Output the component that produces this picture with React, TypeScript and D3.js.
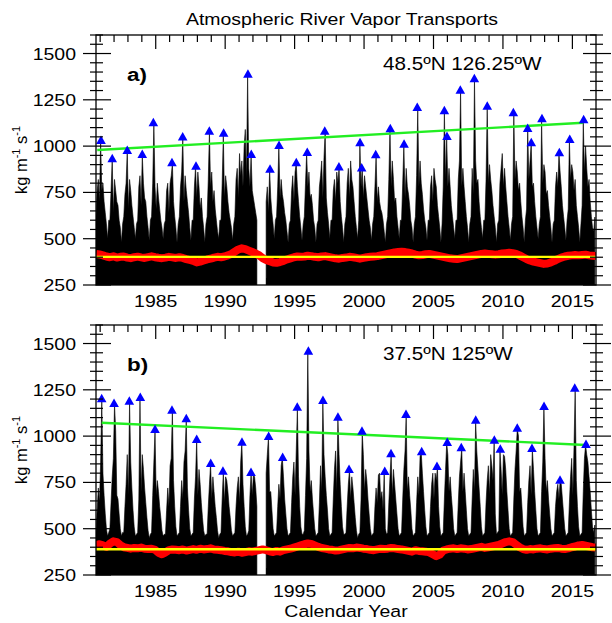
import React from "react";
import * as d3 from "d3";

// ---------- data ----------
const SERIES_START = 1980.7; // first monthly envelope sample (decimal year)
const X_DOMAIN = [1980.7, 2016.7];
const Y_DOMAIN = [250, 1600];
const xTickLabels = [1985, 1990, 1995, 2000, 2005, 2010, 2015];
const yTickLabels = [250, 500, 750, 1000, 1250, 1500];
const panelLetters = ["a)", "b)"];
const locations = ["48.5ºN 126.25ºW", "37.5ºN 125ºW"];
const titleText = "Atmospheric River Vapor Transports";
const xAxisTitle = "Calendar Year";

// monthly maxima of the daily IVT series (Sep..Aug rows), panel a
const blackA: (number | null)[][] = [
  [620, 760, 820, 700, 1028, 760, 800, 700, 640, 580, 500, 600],
  [600, 760, 929, 640, 820, 760, 700, 680, 600, 560, 480, 580],
  [620, 740, 800, 974, 660, 820, 760, 680, 620, 560, 500, 580],
  [600, 780, 840, 680, 952, 800, 720, 700, 620, 560, 490, 600],
  [620, 800, 1123, 780, 660, 800, 720, 660, 600, 560, 500, 580],
  [600, 760, 800, 640, 800, 840, 907, 700, 620, 560, 480, 580],
  [620, 780, 860, 1047, 700, 840, 760, 700, 640, 560, 490, 600],
  [600, 780, 889, 720, 860, 780, 660, 720, 620, 560, 480, 580],
  [620, 820, 1078, 780, 860, 700, 760, 660, 600, 540, 500, 600],
  [600, 800, 1067, 720, 840, 780, 700, 640, 600, 560, 490, 580],
  [620, 820, 880, 720, 960, 840, 920, 780, 1000, 1090, 820, 1386],
  [880, 780, 952, 760, 720, 680, 640, 600, null, null, null, null],
  [null, null, null, 700, 780, 640, 873, 720, 640, 580, 500, 600],
  [620, 780, 1001, 720, 820, 740, 700, 640, 600, 540, 480, 580],
  [600, 760, 840, 700, 860, 907, 780, 700, 620, 560, 490, 580],
  [620, 800, 963, 780, 860, 720, 740, 680, 600, 560, 480, 580],
  [600, 780, 840, 920, 720, 940, 1078, 720, 640, 580, 500, 600],
  [600, 760, 820, 700, 860, 800, 884, 700, 620, 560, 480, 580],
  [620, 800, 880, 720, 920, 820, 780, 700, 620, 560, 500, 600],
  [1015, 780, 879, 720, 840, 780, 720, 660, 600, 560, 490, 580],
  [620, 780, 950, 700, 780, 700, 660, 640, 600, 540, 480, 580],
  [620, 820, 1091, 780, 920, 820, 700, 720, 620, 560, 500, 600],
  [600, 800, 1008, 720, 880, 780, 740, 680, 600, 560, 480, 580],
  [620, 840, 1206, 780, 920, 800, 740, 660, 600, 560, 490, 600],
  [600, 780, 840, 700, 880, 820, 780, 680, 620, 560, 480, 580],
  [780, 1188, 820, 1049, 780, 880, 780, 680, 620, 560, 500, 600],
  [600, 820, 920, 1299, 780, 880, 780, 700, 620, 560, 480, 580],
  [620, 880, 740, 1361, 920, 800, 820, 700, 620, 560, 500, 600],
  [600, 820, 1213, 800, 900, 820, 760, 680, 620, 560, 480, 580],
  [600, 800, 880, 960, 780, 880, 780, 700, 620, 560, 490, 580],
  [620, 1177, 820, 920, 860, 760, 800, 700, 620, 560, 480, 600],
  [660, 1092, 820, 920, 1015, 780, 800, 700, 620, 560, 500, 580],
  [620, 1145, 800, 900, 860, 740, 760, 680, 620, 560, 480, 580],
  [600, 780, 860, 780, 961, 860, 780, 680, 620, 560, 490, 600],
  [660, 1033, 820, 900, 860, 760, 820, 680, 620, 560, 480, 580],
  [680, 1140, 860, 1000, 880, 780, 820, 700, 620, 560, 540, 617],
];

// panel b
const blackB: (number | null)[][] = [
  [480, 600, 720, 640, 860, 1199, 800, 680, 580, 500, 460, 480],
  [500, 640, 780, 880, 1173, 1030, 680, 660, 580, 500, 460, 480],
  [480, 620, 740, 900, 680, 1186, 860, 720, 600, 510, 460, 470],
  [480, 660, 1206, 700, 900, 820, 720, 640, 560, 490, 450, 470],
  [480, 680, 860, 1033, 680, 760, 700, 620, 560, 490, 460, 470],
  [470, 600, 720, 620, 840, 880, 1137, 760, 620, 510, 460, 470],
  [480, 620, 760, 660, 860, 920, 1091, 720, 600, 500, 460, 470],
  [480, 660, 780, 979, 680, 820, 740, 640, 560, 490, 460, 470],
  [470, 620, 740, 849, 660, 780, 700, 620, 560, 490, 450, 470],
  [480, 660, 808, 640, 780, 760, 700, 620, 560, 490, 460, 470],
  [480, 620, 720, 780, 640, 860, 964, 740, 620, 510, 460, 470],
  [490, 680, 801, 680, 790, 780, 720, 620, null, null, null, null],
  [null, null, null, 800, 900, 995, 700, 700, 600, 500, 460, 470],
  [480, 620, 740, 660, 840, 882, 780, 660, 580, 500, 460, 470],
  [480, 640, 780, 860, 680, 920, 1153, 780, 620, 510, 470, 470],
  [490, 680, 880, 1456, 920, 700, 760, 660, 580, 500, 460, 470],
  [480, 640, 840, 700, 1190, 900, 780, 680, 600, 500, 460, 470],
  [480, 660, 820, 920, 700, 1099, 900, 740, 620, 510, 470, 470],
  [480, 620, 740, 817, 660, 780, 720, 640, 560, 490, 450, 470],
  [480, 660, 1024, 900, 700, 820, 760, 660, 580, 500, 460, 470],
  [480, 620, 720, 640, 790, 800, 660, 700, 600, 806, 500, 470],
  [480, 640, 780, 902, 680, 820, 740, 660, 580, 500, 460, 470],
  [480, 660, 820, 920, 1114, 700, 780, 680, 600, 500, 460, 470],
  [480, 640, 780, 680, 890, 913, 800, 700, 600, 510, 460, 470],
  [480, 620, 740, 800, 660, 800, 760, 833, 620, 510, 460, 470],
  [480, 660, 820, 963, 900, 700, 780, 680, 600, 500, 460, 470],
  [480, 640, 780, 860, 934, 700, 800, 700, 600, 500, 460, 470],
  [480, 660, 820, 700, 1083, 920, 820, 720, 620, 510, 460, 470],
  [480, 640, 760, 840, 680, 900, 840, 760, 975, 580, 470, 480],
  [490, 927, 820, 680, 900, 890, 820, 700, 600, 500, 460, 470],
  [480, 660, 820, 920, 1040, 1000, 700, 720, 620, 510, 460, 470],
  [480, 640, 760, 840, 680, 930, 820, 700, 600, 500, 460, 470],
  [480, 700, 860, 1157, 880, 700, 760, 660, 580, 500, 460, 470],
  [480, 620, 700, 740, 660, 759, 740, 660, 580, 500, 460, 470],
  [480, 640, 780, 880, 680, 940, 1256, 760, 620, 510, 460, 470],
  [480, 700, 880, 952, 900, 860, 780, 700, 600, 510, 480, 520],
];

// threshold series (red), quarterly samples from 1980.7
const redA = [
  418, 415, 410, 404, 400, 405, 398, 402, 404, 398, 395, 400, 403, 399, 396, 401,
  405, 400, 397, 395, 398, 402, 399, 396, 400, 396, 390, 385, 380, 372, 376, 382,
  388, 392, 398, 402, 400, 404, 410, 418, 430, 442, 448, 444, 436, 428, 420, 410,
  395, 385, 378, 372, 370, 374, 380, 388, 394, 400, 404, 402, 404, 408, 406, 402,
  400, 404, 406, 402, 398, 394, 392, 396, 398, 402, 400, 396, 392, 396, 400, 402,
  404, 406, 410, 414, 418, 422, 426, 428, 430, 428, 424, 420, 414, 410, 412, 416,
  418, 414, 410, 406, 402, 398, 394, 392, 390, 394, 398, 402, 406, 410, 414, 418,
  420, 418, 416, 414, 416, 420, 422, 424, 422, 418, 410, 400, 390, 382, 376, 372,
  368, 364, 366, 372, 380, 390, 398, 404, 408, 410, 412, 410, 412, 414, 410, 408,
  406,
];
const redB = [
  412, 416, 410, 402, 420, 432, 428, 412, 400, 396, 392, 396, 394, 398, 392, 390,
  392, 386, 370, 362, 372, 384, 388, 386, 384, 388, 382, 386, 390, 386, 392, 388,
  390, 394, 388, 386, 384, 380, 378, 374, 372, 376, 370, 374, 378, 376, 380, 384,
  388, 384, 378, 374, 380, 376, 384, 388, 392, 398, 404, 410, 416, 420, 418, 410,
  402, 396, 392, 388, 386, 382, 384, 388, 392, 396, 394, 398, 396, 392, 390, 386,
  384, 388, 392, 390, 392, 396, 394, 390, 388, 384, 380, 376, 384, 380, 378, 376,
  372, 362, 352, 360, 382, 388, 392, 394, 390, 394, 392, 388, 390, 394, 398, 402,
  396, 400, 404, 408, 412, 420, 428, 432, 428, 414, 400, 390, 386, 390, 388, 392,
  394, 390, 388, 392, 394, 396, 392, 390, 394, 400, 404, 410, 412, 408, 404, 400,
  398,
];

// annual maxima (blue triangles)
const maxTimeA = [
  1981.06, 1981.87, 1982.95, 1984.03, 1984.83, 1986.17, 1986.94, 1987.9, 1988.86, 1989.89,
  1991.64, 1991.88, 1993.23, 1993.88, 1995.12, 1995.91, 1997.17, 1998.19, 1999.71, 1999.83,
  2000.84, 2001.89, 2002.88, 2003.83, 2005.78, 2005.97, 2006.93, 2007.94, 2008.87, 2010.75,
  2011.78, 2012.04, 2012.81, 2014.06, 2014.81, 2015.81,
];
const maxValA = [
  1028, 929, 974, 952, 1123, 907, 1047, 889, 1078, 1067, 1386, 952, 873, 1001, 907, 963,
  1078, 884, 1015, 879, 950, 1091, 1008, 1206, 1188, 1049, 1299, 1361, 1213, 1177, 1092,
  1015, 1145, 961, 1033, 1140,
];
const maxTimeB = [
  1981.11, 1982.0, 1983.1, 1983.89, 1984.95, 1986.17, 1987.2, 1987.95, 1988.96, 1989.84,
  1991.21, 1991.86, 1993.13, 1994.14, 1995.19, 1995.99, 1997.04, 1998.12, 1998.92, 1999.85,
  2001.49, 2001.94, 2003.02, 2004.15, 2005.25, 2005.99, 2007.0, 2008.04, 2009.38, 2009.81,
  2011.03, 2012.09, 2012.96, 2014.11, 2015.17, 2015.98,
];
const maxValB = [
  1199, 1173, 1186, 1206, 1033, 1137, 1091, 979, 849, 808, 964, 801, 995, 882, 1153, 1456,
  1190, 1099, 817, 1024, 806, 902, 1114, 913, 833, 963, 934, 1083, 975, 927, 1040, 930,
  1157, 759, 1256, 952,
];

// linear trend of annual maxima (green)
const trendYearsA = [1980.79, 2015.78];
const trendValsA = [979, 1126];
const trendYearsB = [1981.11, 2015.98];
const trendValsB = [1072, 952];

// long-term mean threshold (yellow)
const meanA = 402;
const meanB = 389;

// ---------- drawing ----------
const FONT = "'Liberation Sans', Arial, Helvetica, sans-serif";
const SX = 1.18;
const LEFT = 96;
const RIGHT = 596;
const PH = 250;

type PanelCfg = {
  top: number;
  black: (number | null)[][];
  red: number[];
  mt: number[];
  mv: number[];
  trT: number[];
  trV: number[];
  mean: number;
  letter: string;
  loc: string;
  id: string;
};

function Panel({ c }: { c: PanelCfg }) {
  const x = d3.scaleLinear().domain(X_DOMAIN).range([LEFT, RIGHT]);
  const y = d3.scaleLinear().domain(Y_DOMAIN).range([c.top + PH, c.top]);
  const bottom = c.top + PH;

  const pts = c.black.flat().map((v, i) => ({ t: SERIES_START + i / 12, v }));
  const area = d3
    .area<{ t: number; v: number | null }>()
    .defined((d) => d.v != null)
    .x((d) => x(d.t))
    .y0(y(250))
    .y1((d) => y(d.v as number));

  const redLine = d3
    .line<number>()
    .x((_, i) => x(SERIES_START + i * 0.25))
    .y((d) => y(d));

  const yTicks = d3.range(250, 1601, 50);
  const xTicks = d3.range(1981, 2017);

  return (
    <g>
      <clipPath id={`clip-${c.id}`}>
        <rect x={LEFT} y={c.top} width={RIGHT - LEFT} height={PH} />
      </clipPath>
      <g clipPath={`url(#clip-${c.id})`}>
        <path d={area(pts) || ""} fill="#000" stroke="#000" strokeWidth={0.6} />
        <path
          d={redLine(c.red) || ""}
          fill="none"
          stroke="#ff0000"
          strokeWidth={8}
          strokeLinejoin="round"
        />
        <line
          x1={x(X_DOMAIN[0])}
          x2={x(X_DOMAIN[1])}
          y1={y(c.mean)}
          y2={y(c.mean)}
          stroke="#ffff00"
          strokeWidth={2.4}
        />
        <line
          x1={x(c.trT[0])}
          x2={x(c.trT[1])}
          y1={y(c.trV[0])}
          y2={y(c.trV[1])}
          stroke="#22ee22"
          strokeWidth={2.4}
        />
      </g>
      {c.mt.map((t, i) => {
        const px = x(t);
        const py = y(c.mv[i]);
        return (
          <path
            key={i}
            d={`M${px},${py - 5.5}L${px + 4.8},${py + 3}L${px - 4.8},${py + 3}Z`}
            fill="#0000ff"
          />
        );
      })}
      {/* frame */}
      <rect
        x={LEFT}
        y={c.top}
        width={RIGHT - LEFT}
        height={PH}
        fill="none"
        stroke="#000"
        strokeWidth={1.3}
      />
      {yTicks.map((v) => {
        const major = v % 250 === 0;
        const yy = y(v);
        const a = major ? 13 : 6;
        const b = major ? 15 : 7;
        return (
          <g key={v}>
            <line x1={LEFT - a} x2={LEFT + b} y1={yy} y2={yy} stroke="#000" strokeWidth={1.2} />
            <line x1={RIGHT - a} x2={RIGHT + b} y1={yy} y2={yy} stroke="#000" strokeWidth={1.2} />
          </g>
        );
      })}
      {xTicks.map((t) => {
        const major = t % 5 === 0;
        const xx = x(t);
        const l = major ? 14 : 7;
        return (
          <g key={t}>
            <line x1={xx} x2={xx} y1={c.top} y2={c.top + l} stroke="#000" strokeWidth={1.2} />
            <line x1={xx} x2={xx} y1={bottom} y2={bottom - l} stroke="#000" strokeWidth={1.2} />
          </g>
        );
      })}
      {yTickLabels.map((v) => (
        <text
          key={v}
          transform={`translate(76,${y(v) + 6}) scale(${SX},1)`}
          textAnchor="end"
          fontSize={16.5}
          fontFamily={FONT}
        >
          {v}
        </text>
      ))}
      {xTickLabels.map((t) => (
        <text
          key={t}
          transform={`translate(${x(t)},${bottom + 21.5}) scale(${SX},1)`}
          textAnchor="middle"
          fontSize={16.5}
          fontFamily={FONT}
        >
          {t}
        </text>
      ))}
      <text
        transform={`translate(127,${c.top + 46}) scale(${SX},1)`}
        fontSize={19}
        fontWeight="bold"
        fontFamily={FONT}
      >
        {c.letter}
      </text>
      <text
        transform={`translate(383,${c.top + 35}) scale(${SX},1)`}
        fontSize={17.5}
        fontFamily={FONT}
      >
        {c.loc}
      </text>
      <text
        transform={`translate(27,${c.top + PH / 2}) rotate(-90)`}
        textAnchor="middle"
        fontSize={16.5}
        fontFamily={FONT}
      >
        <tspan>kg m</tspan>
        <tspan dy={-7} fontSize={11}>
          -1
        </tspan>
        <tspan dy={7}> s</tspan>
        <tspan dy={-7} fontSize={11}>
          -1
        </tspan>
      </text>
    </g>
  );
}

export default function App() {
  const panels: PanelCfg[] = [
    {
      top: 35,
      black: blackA,
      red: redA,
      mt: maxTimeA,
      mv: maxValA,
      trT: trendYearsA,
      trV: trendValsA,
      mean: meanA,
      letter: panelLetters[0],
      loc: locations[0],
      id: "a",
    },
    {
      top: 325,
      black: blackB,
      red: redB,
      mt: maxTimeB,
      mv: maxValB,
      trT: trendYearsB,
      trV: trendValsB,
      mean: meanB,
      letter: panelLetters[1],
      loc: locations[1],
      id: "b",
    },
  ];
  return (
    <svg
      width={612}
      height={623}
      style={{ position: "absolute", left: 0, top: 0, display: "block", background: "#fff" }}
    >
      <rect width={612} height={623} fill="#fff" />
      <text
        transform={`translate(342,25) scale(${SX},1)`}
        textAnchor="middle"
        fontSize={16.5}
        fontFamily={FONT}
      >
        {titleText}
      </text>
      {panels.map((p) => (
        <Panel key={p.id} c={p} />
      ))}
      <text
        transform={`translate(346,617) scale(${SX},1)`}
        textAnchor="middle"
        fontSize={16.5}
        fontFamily={FONT}
      >
        {xAxisTitle}
      </text>
    </svg>
  );
}
